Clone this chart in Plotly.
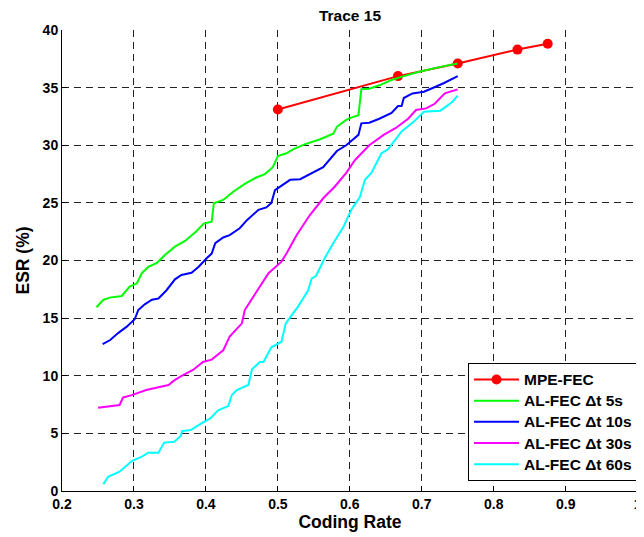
import plotly.graph_objects as go

mpe_x = [0.5, 0.667, 0.75, 0.833, 0.875]
mpe_y = [33.1, 36.0, 37.1, 38.3, 38.8]

g_x = [0.248,0.257,0.266,0.283,0.294,0.304,0.311,0.320,0.332,0.343,0.357,0.371,0.386,0.397,0.408,0.411,0.424,0.438,0.454,0.470,0.482,0.493,0.500,0.512,0.521,0.538,0.558,0.577,0.582,0.595,0.602,0.612,0.616,0.627,0.641,0.658,0.675,0.698,0.726,0.750]
g_y = [15.94,16.57,16.78,16.92,17.73,18.0,18.9,19.46,19.8,20.48,21.2,21.7,22.5,23.2,23.37,24.96,25.25,25.97,26.64,27.2,27.5,28.1,29.07,29.3,29.65,30.1,30.5,31.0,31.6,32.2,32.4,32.6,34.86,34.9,35.2,35.66,36.0,36.4,36.8,37.1]

b_x = [0.2565,0.267,0.278,0.290,0.301,0.306,0.315,0.325,0.334,0.345,0.357,0.366,0.380,0.390,0.401,0.408,0.413,0.424,0.433,0.447,0.457,0.473,0.484,0.491,0.496,0.508,0.517,0.531,0.544,0.563,0.582,0.595,0.612,0.616,0.627,0.641,0.658,0.667,0.672,0.675,0.687,0.703,0.720,0.731,0.750]
b_y = [12.75,13.1,13.7,14.26,14.9,15.7,16.2,16.6,16.7,17.4,18.37,18.74,18.94,19.46,20.2,20.6,21.5,22.0,22.2,22.8,23.5,24.4,24.6,25.0,26.1,26.6,27.0,27.05,27.5,28.1,29.5,30.0,30.9,31.9,31.96,32.3,32.8,33.4,33.4,34.1,34.5,34.65,35.1,35.4,36.0]

m_x = [0.250,0.280,0.285,0.297,0.317,0.336,0.348,0.356,0.365,0.382,0.396,0.408,0.424,0.433,0.450,0.454,0.466,0.487,0.505,0.512,0.526,0.544,0.563,0.579,0.595,0.607,0.627,0.647,0.664,0.681,0.692,0.706,0.718,0.732,0.750]
m_y = [7.23,7.46,8.12,8.32,8.76,9.0,9.2,9.6,9.95,10.5,11.2,11.4,12.2,13.4,14.55,15.7,16.86,18.9,19.9,20.6,22.2,23.9,25.4,26.4,27.6,28.7,30.0,30.9,31.5,32.3,33.06,33.2,33.6,34.5,34.85]

c_x = [0.2575,0.264,0.280,0.288,0.297,0.311,0.320,0.334,0.342,0.356,0.365,0.367,0.379,0.392,0.406,0.417,0.431,0.436,0.443,0.459,0.464,0.475,0.480,0.491,0.505,0.511,0.517,0.528,0.542,0.547,0.553,0.565,0.577,0.591,0.602,0.614,0.621,0.630,0.644,0.653,0.672,0.689,0.703,0.726,0.737,0.743,0.750]
c_y = [0.58,1.24,1.68,2.1,2.6,2.98,3.32,3.32,4.2,4.28,4.77,5.2,5.29,5.81,6.3,7.0,7.37,8.33,8.76,9.2,10.56,11.2,11.2,12.47,12.95,14.55,15.1,16.0,17.4,18.45,18.65,20.2,21.5,22.9,24.4,25.5,27.0,27.6,29.3,29.65,31.2,32.05,32.9,33.0,33.5,33.8,34.3]

x_ticks = [0.2, 0.3, 0.4, 0.5, 0.6, 0.7, 0.8, 0.9, 1.0]
x_tick_labels = ["0.2", "0.3", "0.4", "0.5", "0.6", "0.7", "0.8", "0.9", "1"]
y_ticks = [0, 5, 10, 15, 20, 25, 30, 35, 40]

names = ["MPE-FEC", "AL-FEC \u0394t 5s", "AL-FEC \u0394t 10s", "AL-FEC \u0394t 30s", "AL-FEC \u0394t 60s"]
colors = ["#FF0000", "#00FF00", "#0000FF", "#FF00FF", "#00FFFF"]

FONT = "Liberation Sans, Arial, sans-serif"


def leg(name):
    # legend spacing follows legend font size (14); text drawn a bit larger
    return '<span style="font-size:15.5px">' + name + '</span>'


fig = go.Figure()
fig.add_trace(go.Scatter(x=mpe_x, y=mpe_y, mode="lines+markers", name=leg(names[0]),
                         line=dict(color=colors[0], width=2),
                         marker=dict(color=colors[0], size=10)))
for xs, ys, nm, col in [(g_x, g_y, names[1], colors[1]), (b_x, b_y, names[2], colors[2]),
                        (m_x, m_y, names[3], colors[3]), (c_x, c_y, names[4], colors[4])]:
    fig.add_trace(go.Scatter(x=xs, y=ys, mode="lines", name=leg(nm),
                             line=dict(color=col, width=2)))

axis_common = dict(
    showgrid=True, gridcolor="#222222", griddash="7px,5px", gridwidth=1,
    showline=True, linecolor="black", linewidth=1, mirror=False,
    ticks="inside", ticklen=5, tickcolor="black",
    tickfont=dict(family=FONT, size=14, color="black", weight="bold"),
    zeroline=False, automargin=False,
)

# page body has an 8px margin: figure is sized/offset to compensate
fig.update_layout(
    width=636, height=529,
    margin=dict(l=54, r=6, t=22, b=46),
    paper_bgcolor="white", plot_bgcolor="white",
    title=dict(text="Trace 15", x=0.5, xref="paper", xanchor="center",
               y=1 - 8 / 529, yanchor="middle",
               font=dict(family=FONT, size=15.5, color="black", weight="bold")),
    xaxis=dict(range=[0.2, 1.0005], tickvals=x_ticks, ticktext=x_tick_labels,
               title=dict(text="Coding Rate", standoff=0,
                          font=dict(family=FONT, size=17.5, color="black", weight="bold")),
               **axis_common),
    yaxis=dict(range=[0, 40], tickvals=y_ticks,
               title=dict(text="ESR (%)", standoff=8,
                          font=dict(family=FONT, size=17.5, color="black", weight="bold")),
               **axis_common),
    legend=dict(x=1.0, xanchor="right", y=0.022, yanchor="bottom",
                bgcolor="white", bordercolor="black", borderwidth=1,
                font=dict(family=FONT, size=14, color="black", weight="bold"),
                itemwidth=45, tracegroupgap=0),
    showlegend=True,
)

fig.write_html("out.html")
